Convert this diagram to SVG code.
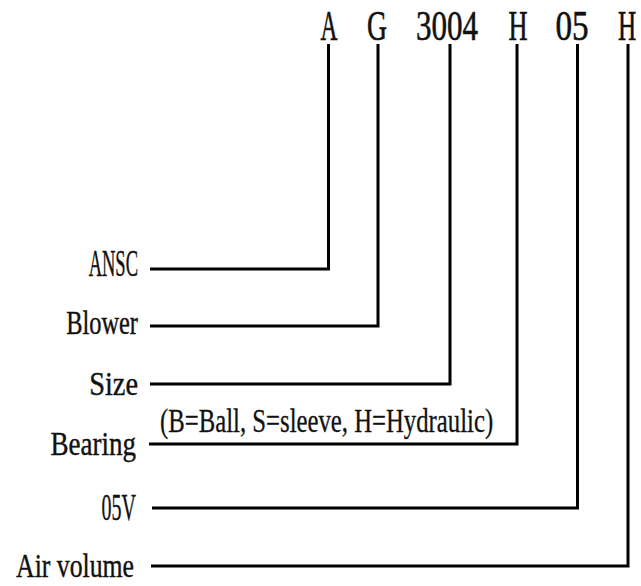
<svg xmlns="http://www.w3.org/2000/svg" width="641" height="586" viewBox="0 0 641 586">
<style>
.code{font-family:"Liberation Serif",serif;font-size:42px;fill:#111;stroke:#111;stroke-width:0.6;text-anchor:middle}
.lbl{font-family:"Liberation Serif",serif;font-size:33px;fill:#111;stroke:#111;stroke-width:0.4;text-anchor:end}
.note{font-family:"Liberation Serif",serif;font-size:33px;fill:#111;stroke:#111;stroke-width:0.3}
.conn{fill:none;stroke:#000;stroke-width:3}
</style>
<rect width="641" height="586" fill="#fff"/>
<g id="code">
<text class="code" transform="translate(329,40) scale(0.56,1)">A</text>
<text class="code" transform="translate(377,40) scale(0.66,1)">G</text>
<text class="code" transform="translate(447,40) scale(0.74,1)">3004</text>
<text class="code" transform="translate(518,40) scale(0.63,1)">H</text>
<text class="code" transform="translate(572,40) scale(0.79,1)">05</text>
<text class="code" transform="translate(627,40) scale(0.6,1)">H</text>
</g>
<g id="node-ansc"><text class="lbl" style="font-size:37px" transform="translate(138,276) scale(0.5,1)">ANSC</text></g>
<g id="node-blower"><text class="lbl" transform="translate(138,334) scale(0.74,1)">Blower</text></g>
<g id="node-size"><text class="lbl" transform="translate(138,395) scale(0.86,1)">Size</text></g>
<g id="node-bearing"><text class="lbl" transform="translate(136,455) scale(0.82,1)">Bearing</text>
<text class="note" transform="translate(160,432) scale(0.75,1)">(B=Ball, S=sleeve, H=Hydraulic)</text></g>
<g id="node-05v"><text class="lbl" style="font-size:37px" transform="translate(136,520) scale(0.54,1)">05V</text></g>
<g id="node-air"><text class="lbl" transform="translate(134,577) scale(0.78,1)">Air volume</text></g>
<g id="connectors" class="conn">
<path d="M150,269 H328.5 V44"/>
<path d="M150,326 H378 V44"/>
<path d="M150,384 H450 V44"/>
<path d="M149,444 H517 V44"/>
<path d="M152,508 H577.5 V44"/>
<path d="M151,566 H628 V44"/>
</g>
</svg>
